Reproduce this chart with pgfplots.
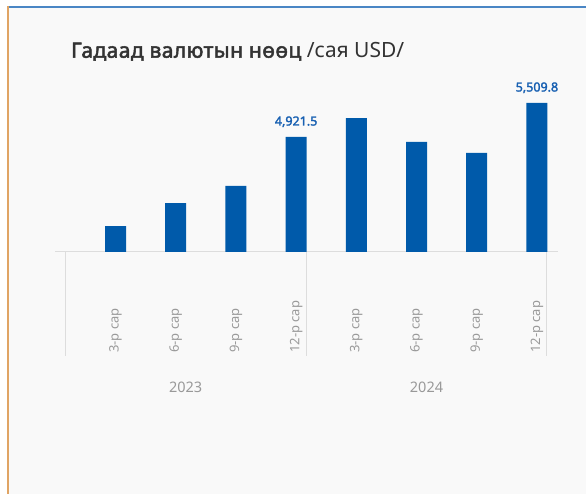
\documentclass[border=0pt]{standalone}
\usepackage{pgfplots}
\pgfplotsset{compat=1.18}
\usepackage{fontspec}
\setmainfont{Noto Sans}[BoldFont={Noto Sans}, BoldFeatures={FakeBold=2.2}]
\newfontfamily\titlebold{Noto Sans}[FakeBold=2.4, LetterSpace=2]
\definecolor{barblue}{RGB}{0,90,170}
\definecolor{lblblue}{RGB}{24,96,178}
\definecolor{titlegray}{RGB}{51,51,51}
\definecolor{txtgray}{RGB}{153,153,153}
\definecolor{linegray}{RGB}{221,221,221}
\definecolor{cardbg}{RGB}{249,249,249}
\definecolor{topline}{RGB}{74,134,197}
\definecolor{leftline}{RGB}{224,164,100}
\begin{document}
\begin{tikzpicture}
\path[use as bounding box, fill=white] (0,0) rectangle (586bp,494bp);
% card
\fill[cardbg] (7bp,0) rectangle (586bp,488bp);
\fill[topline] (7bp,486bp) rectangle (586bp,488bp);
\fill[leftline] (7bp,0) rectangle (9bp,488bp);
% title
\node[anchor=base west, inner sep=0pt, text=titlegray, font=\fontsize{21bp}{24bp}\selectfont]
  at (71bp,436.3bp) {{\titlebold Гадаад валютын нөөц} /сая USD/};
\begin{axis}[
  at={(55bp,242bp)}, anchor=south west,
  scale only axis, width=503bp, height=162bp,
  xmin=-1.005, xmax=7.35,
  ymin=2931.6, ymax=5734.8,
  clip=false,
  axis y line=none,
  axis x line*=bottom,
  x axis line style={draw=linegray, line width=1bp, -},
  xtick={0,...,7},
  xticklabels={3-р сар,6-р сар,9-р сар,12-р сар,3-р сар,6-р сар,9-р сар,12-р сар},
  major tick length=0pt,
  xticklabel style={yshift=-101bp, rotate=90, anchor=west, inner sep=0pt,
    text=txtgray, font=\fontsize{13bp}{15bp}\selectfont},
  nodes near coords,
  point meta=explicit symbolic,
  every node near coord/.append style={anchor=base, yshift=11.5bp, inner sep=0pt,
    text=lblblue, font=\fontsize{12.5bp}{15bp}\selectfont\bfseries},
]
\addplot[ybar, bar width=21bp, fill=barblue, draw=none] coordinates {
  (0,3381) []
  (1,3779) []
  (2,4074) []
  (3,4921.5) [4{,}921.5]
  (4,5250) []
  (5,4835) []
  (6,4645) []
  (7,5509.8) [5{,}509.8]
};
% group separators and year labels
\draw[linegray, line width=1bp] (axis cs:-0.834,2931.6) -- ([yshift=-104bp]axis cs:-0.834,2931.6);
\draw[linegray, line width=1bp] (axis cs:3.166,2931.6) -- ([yshift=-104bp]axis cs:3.166,2931.6);
\draw[linegray, line width=1bp] (axis cs:7.166,2931.6) -- ([yshift=-104bp]axis cs:7.166,2931.6);
\node[text=txtgray, font=\fontsize{14.5bp}{17bp}\selectfont, inner sep=0pt]
  at (axis cs:1.166,2931.6) [yshift=-135bp] {2023};
\node[text=txtgray, font=\fontsize{14.5bp}{17bp}\selectfont, inner sep=0pt]
  at (axis cs:5.166,2931.6) [yshift=-135bp] {2024};
\end{axis}
\end{tikzpicture}
\end{document}
